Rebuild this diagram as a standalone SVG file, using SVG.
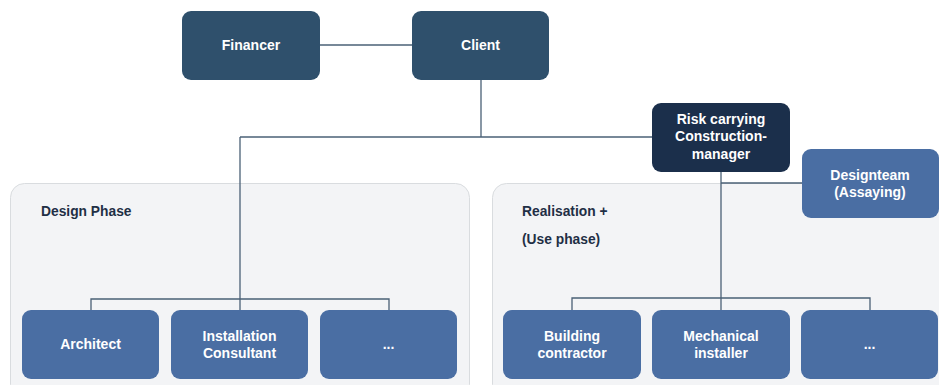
<svg xmlns="http://www.w3.org/2000/svg" width="939" height="385" viewBox="0 0 939 385">
<style>
.panel{fill:#f3f4f6;stroke:#d9dcdf;stroke-width:1}
.dark{fill:#2f506c}
.darker{fill:#1b2f4b}
.blue{fill:#4a6ea3}
.t{font-family:"Liberation Sans",Arial,sans-serif;font-weight:bold;font-size:14px;fill:#ffffff;text-anchor:middle}
.pl{font-family:"Liberation Sans",Arial,sans-serif;font-weight:bold;font-size:13.8px;fill:#1f2f45}
.c{fill:none;stroke:#4a6076;stroke-width:1.3}
</style>
<rect width="939" height="385" fill="#ffffff"/>
<g id="panel-design"><rect class="panel" x="10.5" y="183.5" width="459" height="215" rx="14"/><text class="pl" x="41" y="216">Design Phase</text></g>
<g id="panel-realisation"><rect class="panel" x="492.5" y="183.5" width="460" height="215" rx="14"/><text class="pl" x="522" y="216">Realisation +</text><text class="pl" x="522" y="244">(Use phase)</text></g>
<g id="connectors">
<path class="c" d="M320 45H412"/>
<path class="c" d="M481 80V137"/>
<path class="c" d="M240 137H652"/>
<path class="c" d="M240 137V310"/>
<path class="c" d="M91 310V299H389V310"/>
<path class="c" d="M721 172V310"/>
<path class="c" d="M721 183H802"/>
<path class="c" d="M572 310V298H870V310"/>
</g>
<g id="financer"><rect class="dark" x="182" y="11" width="138" height="69" rx="9"/><text class="t" x="251" y="50">Financer</text></g>
<g id="client"><rect class="dark" x="412" y="11" width="137" height="69" rx="9"/><text class="t" x="480.5" y="50">Client</text></g>
<g id="risk"><rect class="darker" x="652" y="103" width="138" height="69" rx="9"/><text class="t" x="721" y="124">Risk carrying</text><text class="t" x="721" y="141">Construction-</text><text class="t" x="721" y="159">manager</text></g>
<g id="designteam"><rect class="blue" x="802" y="149" width="137" height="69" rx="9"/><text class="t" x="870" y="180">Designteam</text><text class="t" x="870" y="197">(Assaying)</text></g>
<g id="architect"><rect class="blue" x="22" y="310" width="137" height="69" rx="9"/><text class="t" x="90.5" y="349">Architect</text></g>
<g id="installation"><rect class="blue" x="171" y="310" width="137" height="69" rx="9"/><text class="t" x="239.5" y="341">Installation</text><text class="t" x="239.5" y="358">Consultant</text></g>
<g id="design-more"><rect class="blue" x="320" y="310" width="137" height="69" rx="9"/><text class="t" x="388.5" y="349">...</text></g>
<g id="building"><rect class="blue" x="503" y="310" width="138" height="69" rx="9"/><text class="t" x="572" y="341">Building</text><text class="t" x="572" y="358">contractor</text></g>
<g id="mechanical"><rect class="blue" x="652" y="310" width="138" height="69" rx="9"/><text class="t" x="721" y="341">Mechanical</text><text class="t" x="721" y="358">installer</text></g>
<g id="real-more"><rect class="blue" x="801" y="310" width="137" height="69" rx="9"/><text class="t" x="869.5" y="349">...</text></g>
</svg>
